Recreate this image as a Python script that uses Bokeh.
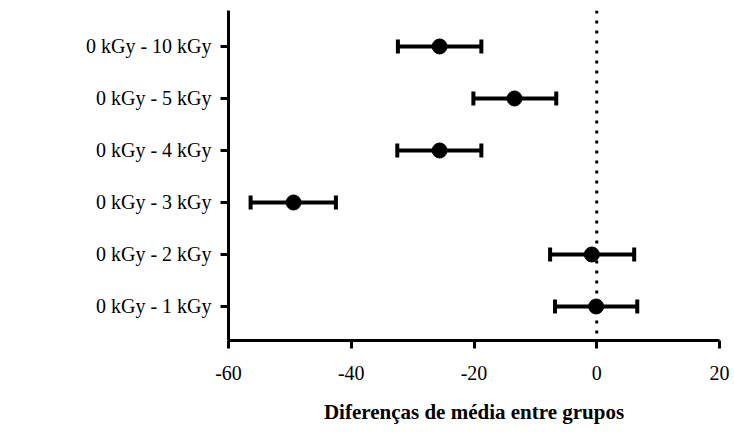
from bokeh.plotting import figure
from bokeh.models import ColumnDataSource, Whisker, TeeHead, Span, FixedTicker, Range1d
from bokeh.embed import file_html
from bokeh.resources import INLINE

# Pairwise comparisons (bottom to top) with mean difference and 95% CI
comparisons = ["0 kGy - 1 kGy", "0 kGy - 2 kGy", "0 kGy - 3 kGy",
               "0 kGy - 4 kGy", "0 kGy - 5 kGy", "0 kGy - 10 kGy"]
mean_diff = [-0.1, -0.8, -49.4, -25.6, -13.4, -25.6]
ci_lower = [-6.8, -7.6, -56.4, -32.5, -20.1, -32.4]
ci_upper = [6.6, 6.1, -42.5, -18.8, -6.6, -18.8]
x_ticks = [-60, -40, -20, 0, 20]
x_tick_labels = ["-60", "-40", "-20", "0", "20"]

pos = list(range(len(comparisons)))
src = ColumnDataSource(dict(y=pos, mean=mean_diff, lo=ci_lower, hi=ci_upper))

FONT = "Liberation Serif"

p = figure(width=734, height=432, output_backend="svg", toolbar_location=None,
           x_range=Range1d(-60, 20), y_range=Range1d(-0.654, 5.692),
           min_border_left=228, min_border_right=15,
           min_border_top=10, min_border_bottom=92)
p.outline_line_color = None
p.grid.visible = False
p.background_fill_color = "white"
p.border_fill_color = "white"

# zero reference line
p.add_layout(Span(location=0, dimension="height", line_color="black",
                  line_width=3, line_dash="3 7"))

whisk = Whisker(source=src, base="y", lower="lo", upper="hi", dimension="width",
                line_color="black", line_width=4,
                lower_head=TeeHead(size=14, line_width=4, line_color="black"),
                upper_head=TeeHead(size=14, line_width=4, line_color="black"))
p.add_layout(whisk)

p.scatter("mean", "y", source=src, size=15, color="black")

# x axis
p.xaxis.ticker = FixedTicker(ticks=x_ticks)
p.xaxis.major_label_overrides = {t: s for t, s in zip(x_ticks, x_tick_labels)}
p.xaxis.minor_tick_line_color = None
p.xaxis.axis_line_width = 3
p.xaxis.major_tick_line_width = 3
p.xaxis.major_tick_out = 8
p.xaxis.major_tick_in = 0
p.xaxis.major_label_text_font = FONT
p.xaxis.major_label_text_font_size = "20px"
p.xaxis.major_label_text_color = "black"
p.xaxis.major_label_standoff = 17
p.xaxis.axis_label = "Diferenças de média entre grupos"
p.xaxis.axis_label_text_font = FONT
p.xaxis.axis_label_text_font_style = "bold"
p.xaxis.axis_label_text_font_size = "21px"
p.xaxis.axis_label_text_color = "black"
p.xaxis.axis_label_standoff = 17

# y axis
p.yaxis.ticker = FixedTicker(ticks=pos)
p.yaxis.major_label_overrides = {i: c for i, c in zip(pos, comparisons)}
p.yaxis.minor_tick_line_color = None
p.yaxis.axis_line_width = 3
p.yaxis.major_tick_line_width = 3
p.yaxis.major_tick_out = 8
p.yaxis.major_tick_in = 0
p.yaxis.major_label_text_font = FONT
p.yaxis.major_label_text_font_size = "20px"
p.yaxis.major_label_text_color = "black"
p.yaxis.major_label_standoff = 9

open("out.html", "w").write(file_html(p, INLINE))
